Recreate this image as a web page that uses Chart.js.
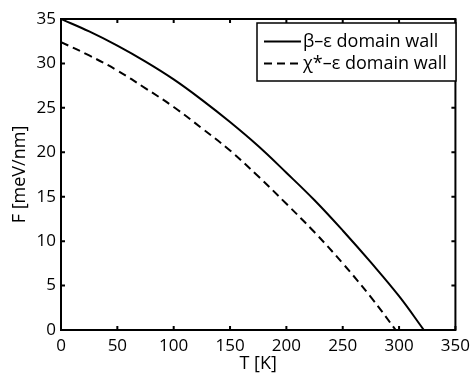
<!DOCTYPE html>
<html>
<head>
<meta charset="utf-8">
<script src="https://cdn.jsdelivr.net/npm/chart.js@4/dist/chart.umd.min.js"></script>
<style>
  html, body { margin: 0; padding: 0; background: #fff; }
  #wrap { width: 476px; height: 375px; }
</style>
</head>
<body>
<div id="wrap"><canvas id="wallChart"></canvas></div>
<script>
// temperature (K) and free energy (meV/nm)
const tBeta = [0, 25, 50, 75, 100, 125, 150, 175, 200, 225, 250, 275, 300, 322];
const fBeta = [35, 33.6, 32.0, 30.2, 28.2, 25.9, 23.4, 20.7, 17.7, 14.6, 11.2, 7.6, 3.8, 0];
const tChi = [0, 25, 50, 75, 100, 125, 150, 175, 200, 225, 250, 275, 297];
const fChi = [32.4, 30.9, 29.2, 27.2, 25.1, 22.7, 20.2, 17.3, 14.2, 11.0, 7.5, 3.7, 0];
const xTicks = [0, 50, 100, 150, 200, 250, 300, 350];
const yTicks = [0, 5, 10, 15, 20, 25, 30, 35];
const seriesNames = ["\u03b2\u2013\u03b5 domain wall", "\u03c7*\u2013\u03b5 domain wall"];

const FONT = "'Open Sans', sans-serif";

function toPoints(xs, ys) {
    return xs.map((x, i) => ({ x: x, y: ys[i] }));
}

// box frame, inward ticks on all four sides, and the legend box
const framePlugin = {
    id: "frame",
    afterDatasetsDraw(chart) {
        const { ctx, chartArea: a, scales } = chart;
        ctx.save();
        ctx.strokeStyle = "#000";
        ctx.lineWidth = 2;
        ctx.strokeRect(a.left, a.top, a.right - a.left, a.bottom - a.top);

        const len = 4;
        ctx.beginPath();
        xTicks.forEach(v => {
            const px = scales.x.getPixelForValue(v);
            ctx.moveTo(px, a.bottom); ctx.lineTo(px, a.bottom - len);
            ctx.moveTo(px, a.top); ctx.lineTo(px, a.top + len);
        });
        yTicks.forEach(v => {
            const py = scales.y.getPixelForValue(v);
            ctx.moveTo(a.left, py); ctx.lineTo(a.left + len, py);
            ctx.moveTo(a.right, py); ctx.lineTo(a.right - len, py);
        });
        ctx.stroke();

        // legend
        const bx = 257, by = 23, bw = 199, bh = 58;
        ctx.fillStyle = "#fff";
        ctx.fillRect(bx, by, bw, bh);
        ctx.lineWidth = 1.5;
        ctx.strokeRect(bx, by, bw, bh);
        ctx.font = "18px " + FONT;
        ctx.fillStyle = "#000";
        ctx.textBaseline = "middle";
        const rows = [by + 18.5, by + 40.5];
        chart.data.datasets.forEach((ds, i) => {
            ctx.lineWidth = 2;
            ctx.setLineDash(ds.borderDash || []);
            ctx.beginPath();
            ctx.moveTo(bx + 7, rows[i]);
            ctx.lineTo(bx + 44, rows[i]);
            ctx.stroke();
            ctx.setLineDash([]);
            ctx.fillText(seriesNames[i], bx + 46, rows[i]);
        });
        ctx.restore();
    }
};

new Chart(document.getElementById("wallChart"), {
    type: "line",
    data: {
        datasets: [
            {
                label: seriesNames[0],
                data: toPoints(tBeta, fBeta),
                borderColor: "#000",
                borderWidth: 2,
                pointRadius: 0,
                tension: 0.4,
                fill: false
            },
            {
                label: seriesNames[1],
                data: toPoints(tChi, fChi),
                borderColor: "#000",
                borderWidth: 2,
                borderDash: [8, 5],
                pointRadius: 0,
                tension: 0.4,
                fill: false
            }
        ]
    },
    options: {
        responsive: true,
        maintainAspectRatio: false,
        animation: false,
        layout: { padding: { left: 0, top: 19, right: 14, bottom: 0 } },
        plugins: {
            legend: { display: false },
            tooltip: { enabled: false }
        },
        scales: {
            x: {
                type: "linear",
                min: 0,
                max: 350,
                afterBuildTicks: s => { s.ticks = xTicks.map(v => ({ value: v })); },
                afterFit: s => { s.height = 45; },
                grid: { display: false, drawTicks: false },
                border: { display: false },
                ticks: { color: "#000", font: { family: FONT, size: 17 }, padding: 6, maxRotation: 0 },
                title: { display: true, text: "T [K]", color: "#000", font: { family: FONT, size: 18 }, padding: 0 }
            },
            y: {
                type: "linear",
                min: 0,
                max: 35,
                afterBuildTicks: s => { s.ticks = yTicks.map(v => ({ value: v })); },
                afterFit: s => { s.width = 61; },
                grid: { display: false, drawTicks: false },
                border: { display: false },
                ticks: { color: "#000", font: { family: FONT, size: 17 }, padding: 5 },
                title: { display: true, text: "F [meV/nm]", color: "#000", font: { family: FONT, size: 18 }, padding: { top: 9, bottom: 0 } }
            }
        }
    },
    plugins: [framePlugin]
});
</script>
</body>
</html>
